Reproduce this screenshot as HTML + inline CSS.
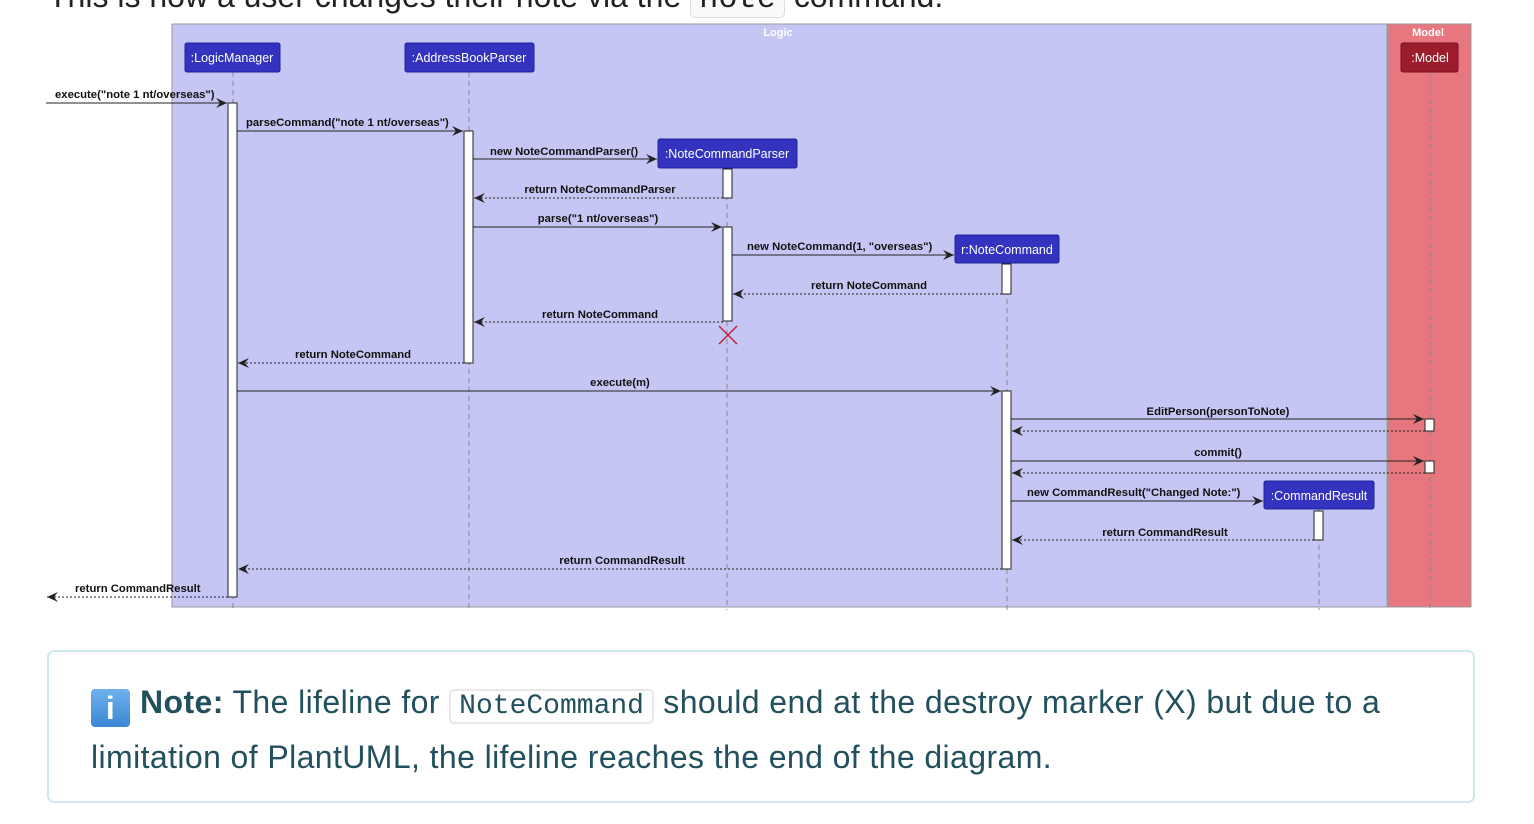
<!DOCTYPE html>
<html><head><meta charset="utf-8"><style>
body{margin:0;width:1534px;height:824px;background:#fff;overflow:hidden;position:relative;font-family:"Liberation Sans",sans-serif}
.top{position:absolute;left:48px;top:-22px;font-size:32px;color:#222;white-space:nowrap}
.top code{font-family:"Liberation Mono",monospace;border:1px solid #ddd;border-radius:5px;padding:0 8px;background:#fafafa}
.note{position:absolute;left:47px;top:650px;width:1428px;height:153px;border:2px solid #cfe8ee;border-radius:7px;box-sizing:border-box}
.nt{position:absolute;left:42px;top:25px;width:1370px;font-size:32px;letter-spacing:0.4px;line-height:51px;color:#22505c}
.nt code{font-family:"Liberation Mono",monospace;border:2px solid #e8e8e8;border-radius:5px;padding:0 8px;font-size:28px;letter-spacing:0}
.ic{display:inline-block;width:39px;height:38px;background:linear-gradient(#6fb2ec,#3a87d4);border-radius:4px;color:#fff;text-align:center;font-size:32px;line-height:38px;vertical-align:-6px;margin-right:10px;font-weight:bold}
svg text{font-family:"Liberation Sans",sans-serif}
</style></head><body>
<div class="top">This is how a user changes their note via the <code>note</code> command.</div>
<svg width="1534" height="640" style="position:absolute;left:0;top:0">
<defs>
<marker id="a" markerWidth="12" markerHeight="10" refX="11" refY="5" orient="auto" markerUnits="userSpaceOnUse"><path d="M0,0 L11,5 L0,10 L4,5 Z" fill="#222"/></marker>
</defs>
<rect x="172" y="24" width="1215" height="583" fill="#c6c6f4" stroke="#999" stroke-width="1"/>
<rect x="1388" y="24" width="83" height="583" fill="#e8767f" stroke="#999" stroke-width="1"/>
<text x="778" y="36" font-size="11" font-weight="bold" fill="#fff" text-anchor="middle">Logic</text>
<text x="1428" y="36" font-size="11" font-weight="bold" fill="#fff" text-anchor="middle">Model</text>
<g stroke="#888" stroke-dasharray="5,4" stroke-width="1">
<line x1="233" y1="72" x2="233" y2="610"/><line x1="469" y1="72" x2="469" y2="610"/>
<line x1="727" y1="168" x2="727" y2="610"/><line x1="1007" y1="263" x2="1007" y2="610"/>
<line x1="1319" y1="509" x2="1319" y2="610"/><line x1="1430" y1="72" x2="1430" y2="610"/>
</g>
<g fill="#3333c0" stroke="#22229a">
<rect x="185" y="43" width="95" height="29" rx="2"/><rect x="405" y="43" width="129" height="29" rx="2"/>
<rect x="658" y="139" width="139" height="29" rx="2"/><rect x="955" y="235" width="104" height="28" rx="2"/>
<rect x="1264" y="481" width="110" height="28" rx="2"/><rect x="1401" y="43" width="57" height="29" rx="2" fill="#9b1c2b" stroke="#7a1020"/>
</g>
<g fill="#fff" font-size="12.5" text-anchor="middle">
<text x="232" y="62">:LogicManager</text><text x="469" y="62">:AddressBookParser</text>
<text x="727" y="158">:NoteCommandParser</text><text x="1007" y="254">r:NoteCommand</text>
<text x="1319" y="500">:CommandResult</text><text x="1430" y="62">:Model</text>
</g>
<g fill="#fff" stroke="#222">
<rect x="228" y="103" width="9" height="494"/><rect x="464" y="131" width="9" height="232"/>
<rect x="723" y="169" width="9" height="29"/><rect x="723" y="227" width="9" height="94"/>
<rect x="1002" y="264" width="9" height="30"/><rect x="1002" y="391" width="9" height="178"/>
<rect x="1314" y="511" width="9" height="29"/><rect x="1425" y="419" width="9" height="12"/><rect x="1425" y="461" width="9" height="12"/>
</g>
<g stroke="#222" stroke-width="1" marker-end="url(#a)">
<line x1="46" y1="103" x2="227" y2="103"/><line x1="237" y1="131" x2="463" y2="131"/>
<line x1="473" y1="159" x2="657" y2="159"/><line x1="473" y1="227" x2="722" y2="227"/>
<line x1="732" y1="255" x2="954" y2="255"/><line x1="237" y1="391" x2="1001" y2="391"/>
<line x1="1011" y1="419" x2="1424" y2="419"/><line x1="1011" y1="461" x2="1424" y2="461"/>
<line x1="1011" y1="501" x2="1263" y2="501"/>
</g>
<g stroke="#222" stroke-width="1" stroke-dasharray="2,2" marker-end="url(#a)">
<line x1="723" y1="198" x2="474" y2="198"/><line x1="1002" y1="294" x2="733" y2="294"/>
<line x1="723" y1="322" x2="474" y2="322"/><line x1="464" y1="363" x2="238" y2="363"/>
<line x1="1425" y1="431" x2="1012" y2="431"/><line x1="1425" y1="473" x2="1012" y2="473"/>
<line x1="1314" y1="540" x2="1012" y2="540"/><line x1="1002" y1="569" x2="238" y2="569"/>
<line x1="228" y1="597" x2="47" y2="597"/>
</g>
<g stroke="#c0203a" stroke-width="1.5"><line x1="719" y1="326" x2="737" y2="344"/><line x1="737" y1="326" x2="719" y2="344"/></g>
<g font-size="11.3" font-weight="bold" fill="#111">
<text x="55" y="98">execute("note 1 nt/overseas")</text>
<text x="246" y="126">parseCommand("note 1 nt/overseas")</text>
<text x="490" y="155">new NoteCommandParser()</text>
<text x="600" y="193" text-anchor="middle">return NoteCommandParser</text>
<text x="598" y="222" text-anchor="middle">parse("1 nt/overseas")</text>
<text x="747" y="250">new NoteCommand(1, "overseas")</text>
<text x="869" y="289" text-anchor="middle">return NoteCommand</text>
<text x="600" y="318" text-anchor="middle">return NoteCommand</text>
<text x="353" y="358" text-anchor="middle">return NoteCommand</text>
<text x="620" y="386" text-anchor="middle">execute(m)</text>
<text x="1218" y="415" text-anchor="middle">EditPerson(personToNote)</text>
<text x="1218" y="456" text-anchor="middle">commit()</text>
<text x="1027" y="496">new CommandResult("Changed Note:")</text>
<text x="1165" y="536" text-anchor="middle">return CommandResult</text>
<text x="622" y="564" text-anchor="middle">return CommandResult</text>
<text x="75" y="592">return CommandResult</text>
</g>
</svg>
<div class="note"><div class="nt"><span class="ic">i</span><b>Note:</b> The lifeline for <code>NoteCommand</code> should end at the destroy marker (X) but due to a limitation of PlantUML, the lifeline reaches the end of the diagram.</div></div>
</body></html>
